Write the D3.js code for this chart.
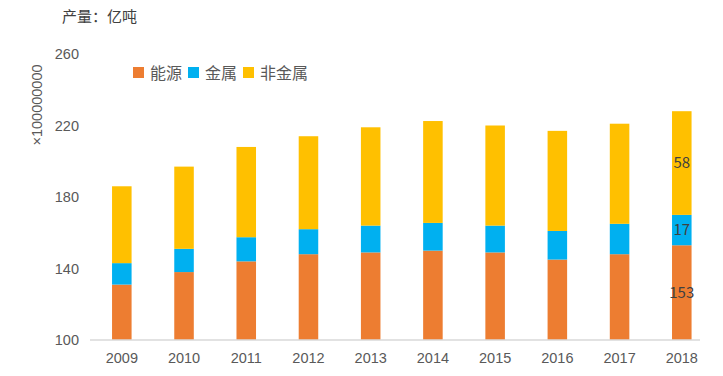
<!DOCTYPE html>
<html>
<head>
<meta charset="utf-8">
<script src="https://cdn.jsdelivr.net/npm/d3@7/dist/d3.min.js"></script>
<style>
	body { margin: 0; background: #fff; }
	text { font-family: "Noto Sans CJK SC", "Liberation Sans", sans-serif; }
</style>
</head>
<body>
<div id="chart"></div>
<script>
// data
var years = ["2009","2010","2011","2012","2013","2014","2015","2016","2017","2018"];
var energy = [131, 138, 144, 148, 149, 150, 149, 145, 148, 153];
var metal = [12, 13, 13.5, 14, 15, 15.5, 15, 16, 17, 17];
var nonmetal = [43, 46, 50.5, 52, 55, 57, 56, 56, 56, 58];
var seriesNames = ["能源", "金属", "非金属"];
var colors = ["#ED7D31", "#00B0F0", "#FFC000"];
var yTicks = [100, 140, 180, 220, 260];
var labelYear = "2018";

var width = 723, height = 376;
var margin = {top: 54, right: 23, bottom: 36, left: 90};
var innerW = width - margin.left - margin.right,
	innerH = height - margin.top - margin.bottom;

var svg = d3.select("#chart").append("svg")
	.attr("width", width)
	.attr("height", height);

var g = svg.append("g")
	.attr("transform", "translate(" + margin.left + "," + margin.top + ")");

var table = years.map(function(y, i){
	return {year: y, "能源": energy[i], "金属": metal[i], "非金属": nonmetal[i]};
});
var stacked = d3.stack().keys(seriesNames)(table);

var x = d3.scaleBand()
	.domain(years)
	.range([0.7, 622.9])
	.paddingInner(0.686)
	.paddingOuter(0.343);

var y = d3.scaleLinear()
	.domain([100, 260])
	.range([innerH, 0]);

// clip bars at 100
g.append("clipPath").attr("id", "plotclip")
	.append("rect").attr("x", 0).attr("y", -10).attr("width", innerW).attr("height", innerH + 10);

var layers = g.append("g").attr("clip-path", "url(#plotclip)")
	.selectAll("g.layer")
	.data(stacked)
	.enter().append("g")
	.attr("class", "layer")
	.attr("fill", function(d, i){ return colors[i]; });

layers.selectAll("rect")
	.data(function(d){ return d; })
	.enter().append("rect")
	.attr("x", function(d){ return x(d.data.year); })
	.attr("width", x.bandwidth())
	.attr("y", function(d){ return y(d[1]); })
	.attr("height", function(d){ return y(Math.max(d[0], 100)) - y(d[1]); });

// data labels for last year
stacked.forEach(function(s, i){
	var d = s.find(function(p){ return p.data.year == labelYear; });
	var lo = Math.max(d[0], 100);
	g.append("text")
		.attr("x", x(labelYear) + x.bandwidth() / 2)
		.attr("y", (y(lo) + y(d[1])) / 2)
		.attr("dy", "0.35em")
		.attr("text-anchor", "middle")
		.style("font-size", "15px")
		.style("fill", "#404040")
		.text(d3.format("d")(d.data[seriesNames[i]]));
});

// x axis
var xAxis = g.append("g")
	.attr("transform", "translate(0," + innerH + ")")
	.call(d3.axisBottom(x).tickSize(0).tickPadding(13));
xAxis.select(".domain").remove();
xAxis.append("line")
	.attr("x1", 0).attr("x2", 610)
	.attr("stroke", "#d9d9d9").attr("stroke-width", 1.5);
xAxis.selectAll("text")
	.style("font-size", "14.5px")
	.style("fill", "#595959")
	.style("font-family", "'Liberation Sans', sans-serif");

// y axis
var yAxis = g.append("g")
	.call(d3.axisLeft(y).tickValues(yTicks).tickSize(0).tickPadding(11));
yAxis.select(".domain").remove();
yAxis.selectAll("text")
	.style("font-size", "14.5px")
	.style("fill", "#595959")
	.style("font-family", "'Liberation Sans', sans-serif");

// unit label
svg.append("text")
	.attr("transform", "translate(42,105) rotate(-90)")
	.attr("text-anchor", "middle")
	.style("font-size", "14.5px")
	.style("fill", "#595959")
	.style("font-family", "'Liberation Sans', sans-serif")
	.text("×100000000");

// title
svg.append("text")
	.attr("x", 62)
	.attr("y", 22)
	.style("font-size", "15px")
	.style("fill", "#404040")
	.text("产量：亿吨");

// legend
var legendX = [133, 188, 243];
var legend = svg.selectAll("g.legend")
	.data(seriesNames)
	.enter().append("g")
	.attr("class", "legend")
	.attr("transform", function(d, i){ return "translate(" + legendX[i] + ",67)"; });
legend.append("rect")
	.attr("width", 11).attr("height", 11)
	.attr("fill", function(d, i){ return colors[i]; });
legend.append("text")
	.attr("x", 17)
	.attr("y", 6)
	.attr("dy", "0.35em")
	.style("font-size", "16px")
	.style("fill", "#595959")
	.text(function(d){ return d; });
</script>
</body>
</html>
